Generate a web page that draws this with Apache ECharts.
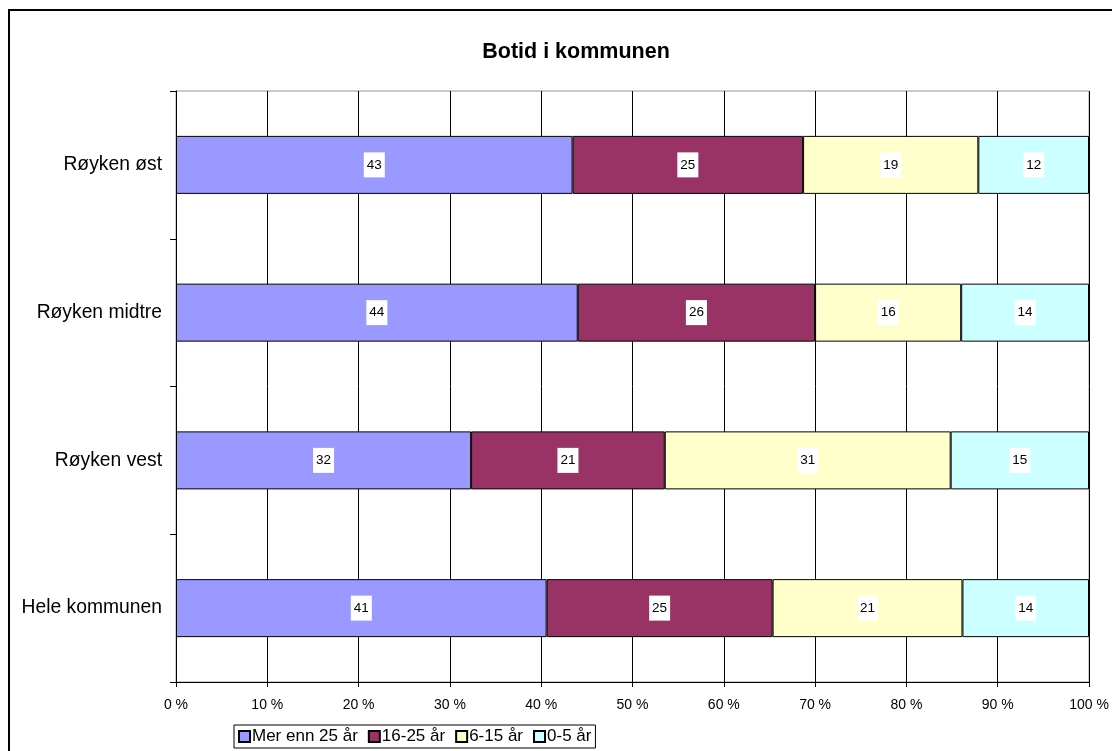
<!DOCTYPE html>
<html>
<head>
<meta charset="utf-8">
<script src="https://cdn.jsdelivr.net/npm/echarts@6/dist/echarts.min.js"></script>
<style>
html,body{margin:0;padding:0;background:#fff;}
#c{width:1112px;height:751px;}
</style>
</head>
<body>
<div id="c"></div>
<script>
const title = 'Botid i kommunen';
const categories = ['Hele kommunen', 'Røyken vest', 'Røyken midtre', 'Røyken øst'];
const seriesNames = ['Mer enn 25 år', '16-25 år', '6-15 år', '0-5 år'];
const merEnn25 = [41, 32, 44, 43];
const aar16_25 = [25, 21, 26, 25];
const aar6_15 = [21, 31, 16, 19];
const aar0_5 = [14, 15, 14, 12];
const xTicks = [0, 10, 20, 30, 40, 50, 60, 70, 80, 90, 100];
const colors = ['#9999FF', '#993366', '#FFFFCC', '#CCFFFF'];

const raw = [merEnn25, aar16_25, aar6_15, aar0_5];
const totals = categories.map((_, i) => raw.reduce((s, arr) => s + arr[i], 0));

const chart = echarts.init(document.getElementById('c'), null, {renderer: 'canvas'});
const font = 'Arial, "Liberation Sans", sans-serif';

chart.setOption({
  animation: false,
  backgroundColor: '#fff',
  title: {
    text: title, left: 571, top: 36, textAlign: 'center',
    textStyle: {fontFamily: font, fontSize: 21.5, fontWeight: 'bold', color: '#000'}
  },
  graphic: [{
    type: 'rect', silent: true, z: 100,
    shape: {x: 9, y: 10, width: 1200, height: 800},
    style: {fill: 'none', stroke: '#000', lineWidth: 2}
  }],
  grid: {left: 176, right: 23, top: 91, bottom: 69, show: true, borderColor: '#999', borderWidth: 1},
  legend: {
    left: 234, top: 725,
    data: seriesNames,
    borderColor: '#000', borderWidth: 1, padding: [3, 4, 3, 4],
    itemWidth: 11, itemHeight: 11, itemGap: 10,
    icon: 'rect',
    textStyle: {fontFamily: font, fontSize: 17, color: '#000', padding: [0, 0, 0, -3]}
  },
  xAxis: {
    type: 'value', min: 0, max: xTicks[xTicks.length - 1], interval: xTicks[1] - xTicks[0],
    axisLine: {show: true, lineStyle: {color: '#000'}},
    axisTick: {show: true, length: 5, lineStyle: {color: '#000'}},
    splitLine: {show: true, lineStyle: {color: '#000', width: 1}},
    axisLabel: {formatter: '{value} %', fontFamily: font, fontSize: 14, color: '#000', margin: 16}
  },
  yAxis: {
    type: 'category', data: categories,
    axisLine: {show: true, lineStyle: {color: '#000'}},
    axisTick: {show: true, length: 6, lineStyle: {color: '#000'}},
    axisLabel: {fontFamily: font, fontSize: 19.3, color: '#000', margin: 14}
  },
  series: seriesNames.map((name, k) => ({
    name, type: 'bar', stack: 'total', barWidth: 58,
    itemStyle: {color: colors[k], borderColor: '#000', borderWidth: 1},
    label: {
      show: true, position: 'inside',
      fontFamily: font, fontSize: 13.5, color: '#000',
      backgroundColor: '#fff', padding: [6, 3, 5, 3],
      formatter: p => raw[k][p.dataIndex]
    },
    data: raw[k].map((v, i) => v / totals[i] * 100)
  }))
});
</script>
</body>
</html>
